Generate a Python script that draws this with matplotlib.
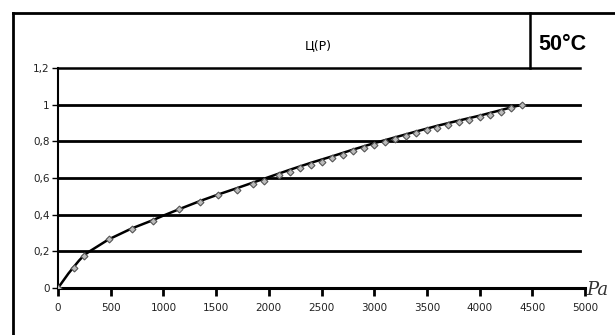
import matplotlib
matplotlib.use("Agg")
import matplotlib.pyplot as plt
from matplotlib.lines import Line2D

# ---- data ----
title = "Ц(P)"
temp_label = "50°C"
x_unit = "Pa"
curve_x = [0, 100, 200, 250, 300, 480, 700, 900, 1000, 1150, 1350, 1520, 1700, 1850,
           2000, 2200, 2400, 2600, 2800, 3000, 3200, 3400, 3600, 3800, 4000, 4200, 4400]
curve_y = [0.0, 0.08, 0.15, 0.18, 0.20, 0.265, 0.325, 0.37, 0.395, 0.43, 0.475, 0.51,
           0.545, 0.575, 0.605, 0.645, 0.683, 0.718, 0.755, 0.79, 0.822, 0.854, 0.885,
           0.913, 0.94, 0.97, 1.0]
pts_x = [0, 150, 250, 480, 700, 900, 1150, 1350, 1520, 1700, 1850, 1950, 2100, 2200,
         2300, 2400, 2500, 2600, 2700, 2800, 2900, 3000, 3100, 3200, 3300, 3400, 3500,
         3600, 3700, 3800, 3900, 4000, 4100, 4200, 4300, 4400]
pts_y = [0.0, 0.11, 0.175, 0.265, 0.32, 0.365, 0.43, 0.47, 0.505, 0.535, 0.565, 0.585,
         0.615, 0.635, 0.652, 0.672, 0.69, 0.707, 0.725, 0.745, 0.762, 0.78, 0.797,
         0.812, 0.83, 0.845, 0.86, 0.875, 0.89, 0.905, 0.918, 0.93, 0.945, 0.962,
         0.98, 1.0]
y_ticks = [0, 0.2, 0.4, 0.6, 0.8, 1.0, 1.2]
y_labels = ["0", "0,2", "0,4", "0,6", "0,8", "1", "1,2"]
x_ticks = [0, 500, 1000, 1500, 2000, 2500, 3000, 3500, 4000, 4500, 5000]

fig = plt.figure(figsize=(6.15, 3.35), dpi=100)
W, H = 615, 335
def fx(px): return px / W
def fy(py): return 1 - py / H

ax = fig.add_axes([fx(58), fy(288), fx(585) - fx(58), fy(68) - fy(288)])
ax.set_xlim(0, 5000)
ax.set_ylim(0, 1.2)

for yv in y_ticks[1:-1]:
    ax.plot([0, 4950], [yv, yv], color="black", lw=2.0, zorder=1, clip_on=False)
ax.plot([0, 5000], [0, 0], color="black", lw=2.2, zorder=1, clip_on=False)

ax.plot(curve_x, curve_y, color="black", lw=1.8, zorder=3)
ax.plot(pts_x, pts_y, ls="none", marker="D", ms=3.5, mfc="#bbbbbb", mec="#555555",
        mew=0.8, zorder=4)

for s in ["top", "right", "bottom"]:
    ax.spines[s].set_visible(False)
ax.spines["left"].set_linewidth(1.5)

ax.set_yticks(y_ticks)
ax.set_yticklabels(y_labels, fontsize=7.5, color="#222222", family="DejaVu Sans")
ax.set_xticks(x_ticks)
ax.set_xticklabels([str(v) for v in x_ticks], fontsize=7.5, color="#222222",
                   family="DejaVu Sans")
ax.tick_params(axis="y", length=4, width=1.0, pad=2)
ax.tick_params(axis="x", length=6, width=2.0, pad=5, direction="out")

# outer frame and title box
fig.add_artist(Line2D([fx(13), fx(13)], [0, fy(13)], color="black", lw=2.0))
fig.add_artist(Line2D([fx(13), 1], [fy(13), fy(13)], color="black", lw=2.0))
fig.add_artist(Line2D([fx(58), fx(580)], [fy(68), fy(68)], color="black", lw=1.8))
fig.add_artist(Line2D([fx(530), fx(530)], [fy(13), fy(68)], color="black", lw=1.8))

fig.text(fx(318), fy(46), title, ha="center", va="center", fontsize=9,
         family="DejaVu Sans")
fig.text(fx(562), fy(45), temp_label, ha="center", va="center", fontsize=15.5,
         fontweight="bold", family="Liberation Sans")
fig.text(fx(597), fy(290), x_unit, ha="center", va="center", fontsize=13,
         family="DejaVu Serif", style="italic", color="#333333")

fig.savefig("out.png", dpi=100)
